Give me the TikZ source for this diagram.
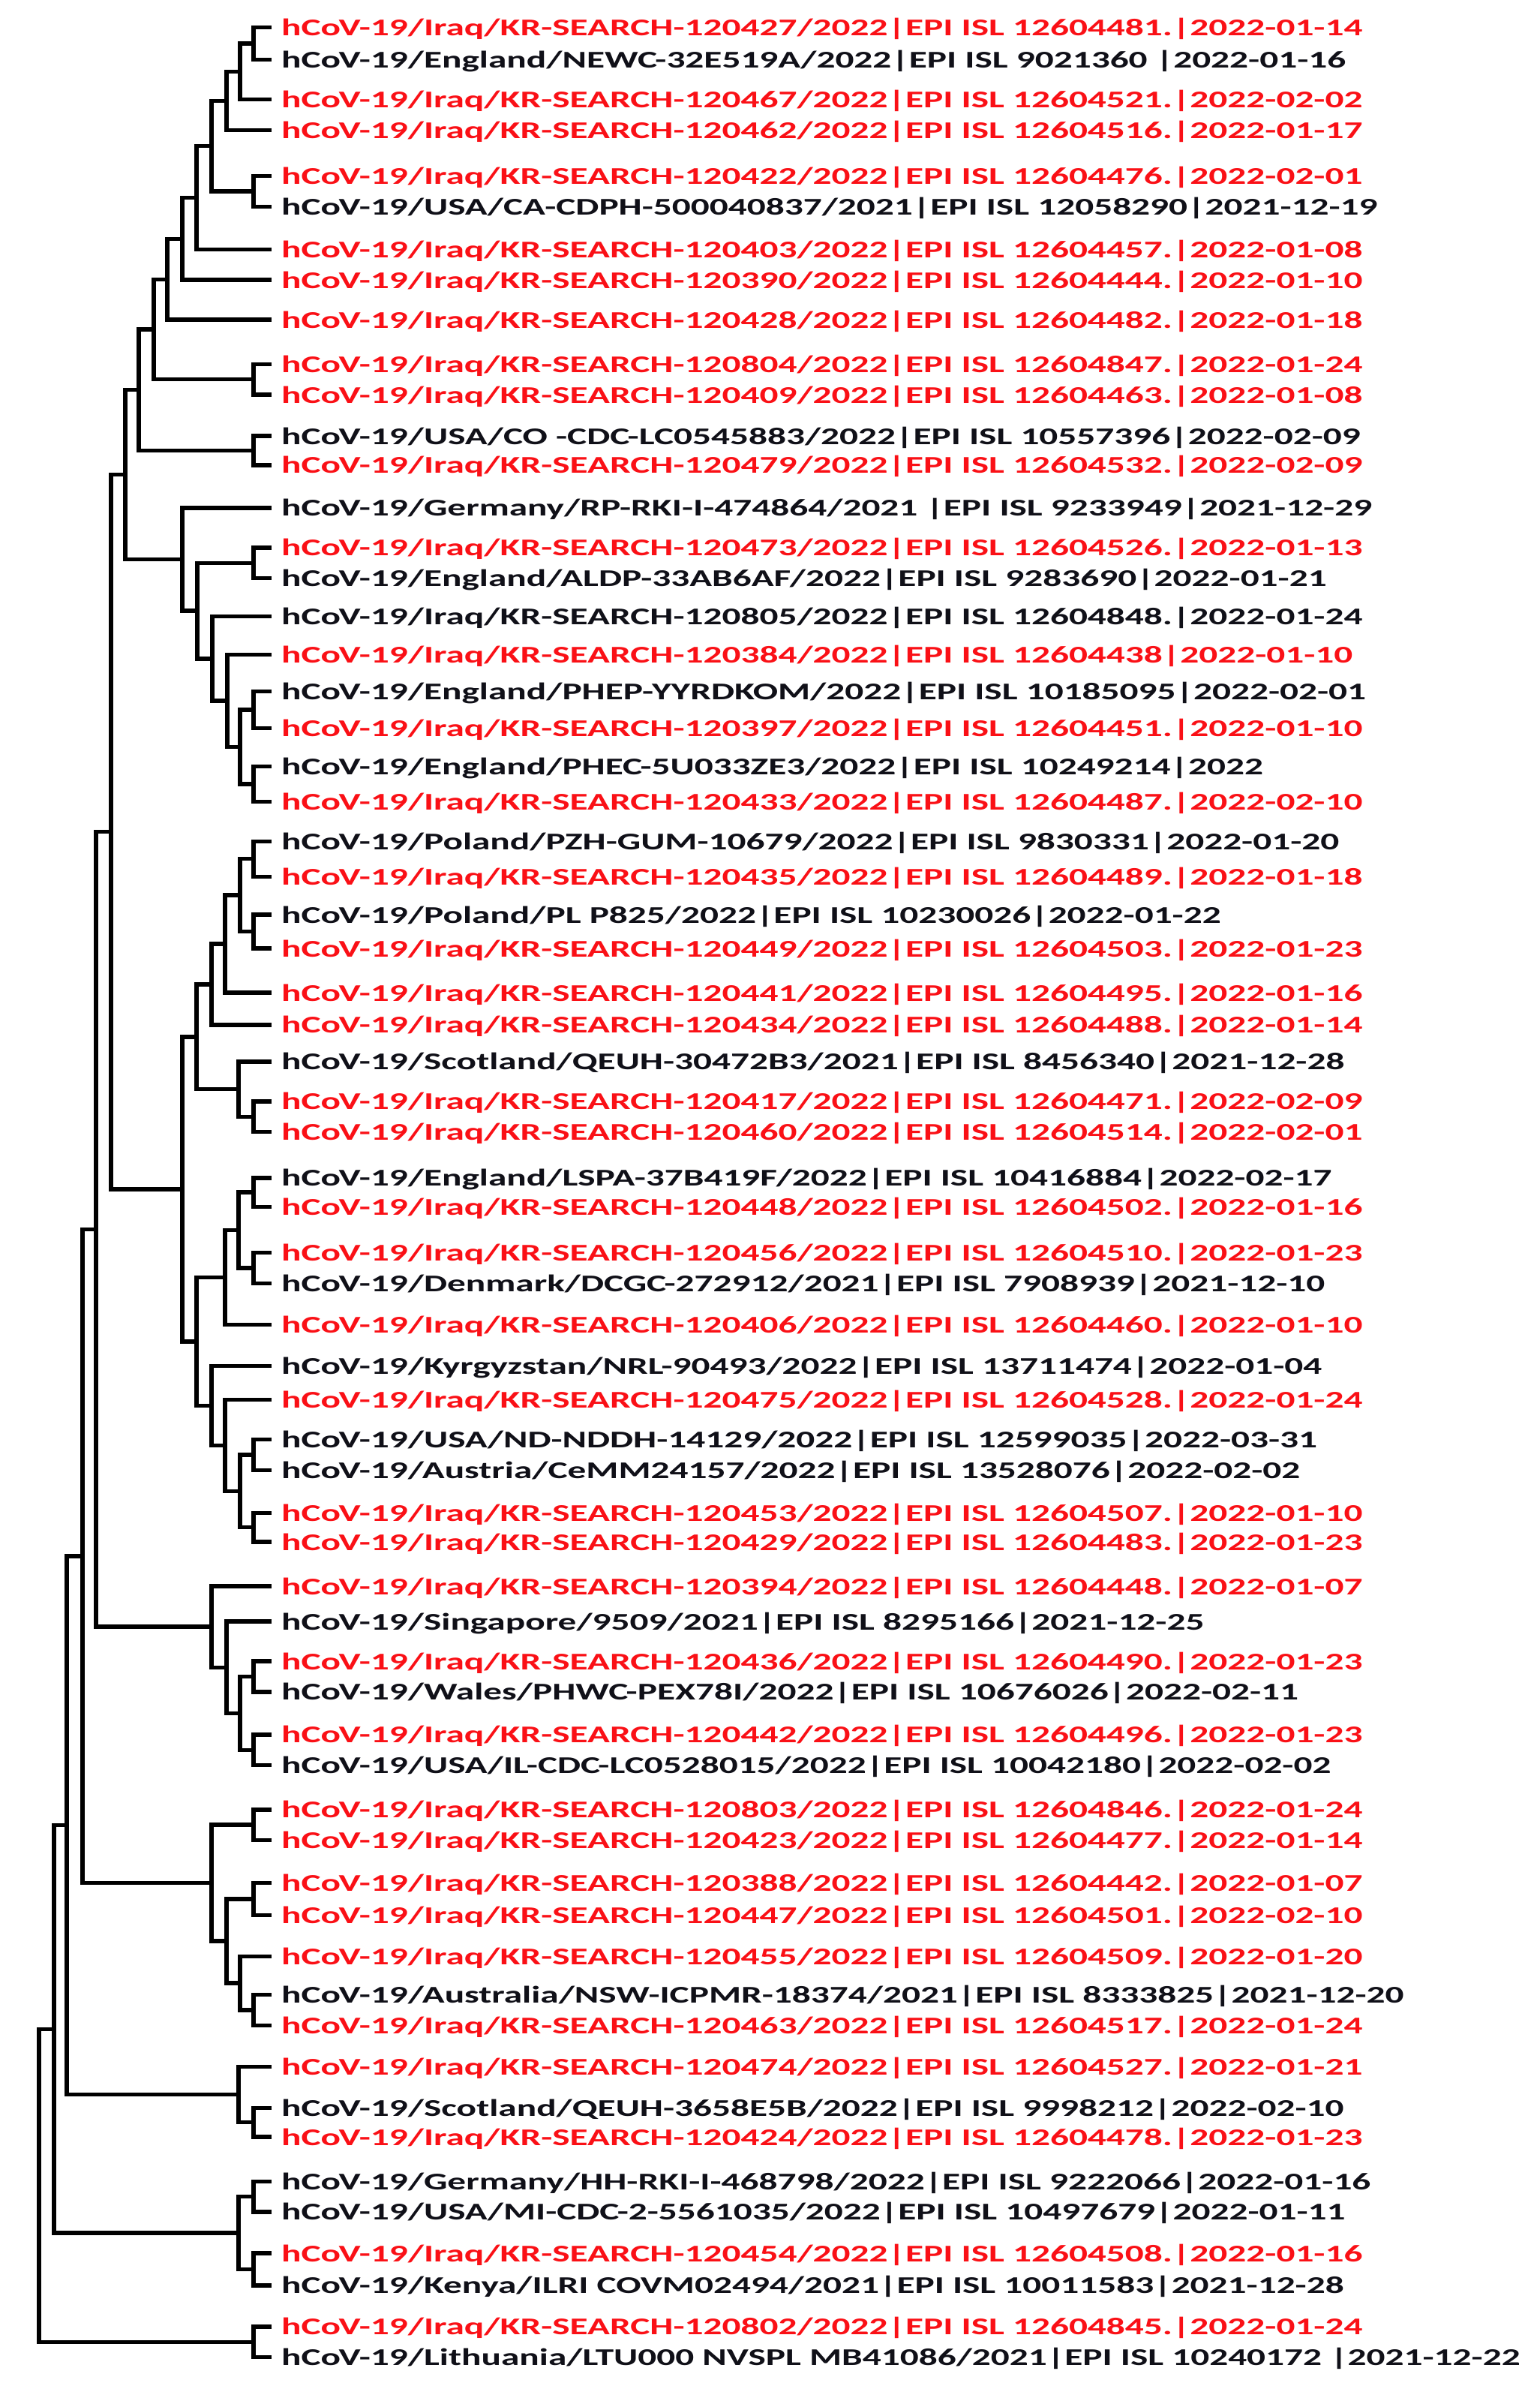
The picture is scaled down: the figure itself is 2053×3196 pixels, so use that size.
\documentclass[tikz,border=0pt]{standalone}
\usepackage{fontspec}
\newfontfamily\labfont[FakeStretch=1.54]{Carlito}
\definecolor{isored}{RGB}{250,16,22}
\definecolor{refblack}{RGB}{16,16,24}
\tikzset{
  treeline/.style={line width=5.4pt, line join=miter, color=black},
  lab/.style={anchor=base west, inner sep=0pt, font=\labfont\bfseries\fontsize{32}{38}\selectfont},
  iraq/.style={lab, text=isored},
  other/.style={lab, text=refblack},
}
\newcommand\leaf[4]{%
  \coordinate (l#1) at (362,#2);
  \node[#3] (t#1) at (375,#2+11) {#4};}
\newcommand\br[3]{\draw[treeline] (#2) -| (#1) |- (#3);}
\begin{document}
\begin{tikzpicture}[x=1pt,y=-1pt]
\useasboundingbox[fill=white] (0,0) rectangle (2053,3196);
% leaves
\leaf{1}{36.7}{iraq}{hCoV-19/Iraq/KR-SEARCH-120427/2022|EPI ISL 12604481.|2022-01-14}
\leaf{2}{79.5}{other}{hCoV-19/England/NEWC-32E519A/2022|EPI ISL 9021360 |2022-01-16}
\leaf{3}{132.5}{iraq}{hCoV-19/Iraq/KR-SEARCH-120467/2022|EPI ISL 12604521.|2022-02-02}
\leaf{4}{173.3}{iraq}{hCoV-19/Iraq/KR-SEARCH-120462/2022|EPI ISL 12604516.|2022-01-17}
\leaf{5}{234.5}{iraq}{hCoV-19/Iraq/KR-SEARCH-120422/2022|EPI ISL 12604476.|2022-02-01}
\leaf{6}{275.2}{other}{hCoV-19/USA/CA-CDPH-500040837/2021|EPI ISL 12058290|2021-12-19}
\leaf{7}{332.3}{iraq}{hCoV-19/Iraq/KR-SEARCH-120403/2022|EPI ISL 12604457.|2022-01-08}
\leaf{8}{373.1}{iraq}{hCoV-19/Iraq/KR-SEARCH-120390/2022|EPI ISL 12604444.|2022-01-10}
\leaf{9}{426.1}{iraq}{hCoV-19/Iraq/KR-SEARCH-120428/2022|EPI ISL 12604482.|2022-01-18}
\leaf{10}{485.2}{iraq}{hCoV-19/Iraq/KR-SEARCH-120804/2022|EPI ISL 12604847.|2022-01-24}
\leaf{11}{526.0}{iraq}{hCoV-19/Iraq/KR-SEARCH-120409/2022|EPI ISL 12604463.|2022-01-08}
\leaf{12}{581.0}{other}{hCoV-19/USA/CO -CDC-LC0545883/2022|EPI ISL 10557396|2022-02-09}
\leaf{13}{619.8}{iraq}{hCoV-19/Iraq/KR-SEARCH-120479/2022|EPI ISL 12604532.|2022-02-09}
\leaf{14}{676.9}{other}{hCoV-19/Germany/RP-RKI-I-474864/2021 |EPI ISL 9233949|2021-12-29}
\leaf{15}{729.9}{iraq}{hCoV-19/Iraq/KR-SEARCH-120473/2022|EPI ISL 12604526.|2022-01-13}
\leaf{16}{770.6}{other}{hCoV-19/England/ALDP-33AB6AF/2022|EPI ISL 9283690|2022-01-21}
\leaf{17}{821.6}{other}{hCoV-19/Iraq/KR-SEARCH-120805/2022|EPI ISL 12604848.|2022-01-24}
\leaf{18}{872.6}{iraq}{hCoV-19/Iraq/KR-SEARCH-120384/2022|EPI ISL 12604438|2022-01-10}
\leaf{19}{921.5}{other}{hCoV-19/England/PHEP-YYRDKOM/2022|EPI ISL 10185095|2022-02-01}
\leaf{20}{970.4}{iraq}{hCoV-19/Iraq/KR-SEARCH-120397/2022|EPI ISL 12604451.|2022-01-10}
\leaf{21}{1021.4}{other}{hCoV-19/England/PHEC-5U033ZE3/2022|EPI ISL 10249214|2022}
\leaf{22}{1068.3}{iraq}{hCoV-19/Iraq/KR-SEARCH-120433/2022|EPI ISL 12604487.|2022-02-10}
\leaf{23}{1121.3}{other}{hCoV-19/Poland/PZH-GUM-10679/2022|EPI ISL 9830331|2022-01-20}
\leaf{24}{1168.2}{iraq}{hCoV-19/Iraq/KR-SEARCH-120435/2022|EPI ISL 12604489.|2022-01-18}
\leaf{25}{1219.1}{other}{hCoV-19/Poland/PL P825/2022|EPI ISL 10230026|2022-01-22}
\leaf{26}{1264.0}{iraq}{hCoV-19/Iraq/KR-SEARCH-120449/2022|EPI ISL 12604503.|2022-01-23}
\leaf{27}{1323.1}{iraq}{hCoV-19/Iraq/KR-SEARCH-120441/2022|EPI ISL 12604495.|2022-01-16}
\leaf{28}{1365.9}{iraq}{hCoV-19/Iraq/KR-SEARCH-120434/2022|EPI ISL 12604488.|2022-01-14}
\leaf{29}{1414.9}{other}{hCoV-19/Scotland/QEUH-30472B3/2021|EPI ISL 8456340|2021-12-28}
\leaf{30}{1467.9}{iraq}{hCoV-19/Iraq/KR-SEARCH-120417/2022|EPI ISL 12604471.|2022-02-09}
\leaf{31}{1508.6}{iraq}{hCoV-19/Iraq/KR-SEARCH-120460/2022|EPI ISL 12604514.|2022-02-01}
\leaf{32}{1569.8}{other}{hCoV-19/England/LSPA-37B419F/2022|EPI ISL 10416884|2022-02-17}
\leaf{33}{1608.5}{iraq}{hCoV-19/Iraq/KR-SEARCH-120448/2022|EPI ISL 12604502.|2022-01-16}
\leaf{34}{1669.7}{iraq}{hCoV-19/Iraq/KR-SEARCH-120456/2022|EPI ISL 12604510.|2022-01-23}
\leaf{35}{1710.5}{other}{hCoV-19/Denmark/DCGC-272912/2021|EPI ISL 7908939|2021-12-10}
\leaf{36}{1765.5}{iraq}{hCoV-19/Iraq/KR-SEARCH-120406/2022|EPI ISL 12604460.|2022-01-10}
\leaf{37}{1820.6}{other}{hCoV-19/Kyrgyzstan/NRL-90493/2022|EPI ISL 13711474|2022-01-04}
\leaf{38}{1865.4}{iraq}{hCoV-19/Iraq/KR-SEARCH-120475/2022|EPI ISL 12604528.|2022-01-24}
\leaf{39}{1918.4}{other}{hCoV-19/USA/ND-NDDH-14129/2022|EPI ISL 12599035|2022-03-31}
\leaf{40}{1959.2}{other}{hCoV-19/Austria/CeMM24157/2022|EPI ISL 13528076|2022-02-02}
\leaf{41}{2016.3}{iraq}{hCoV-19/Iraq/KR-SEARCH-120453/2022|EPI ISL 12604507.|2022-01-10}
\leaf{42}{2055.0}{iraq}{hCoV-19/Iraq/KR-SEARCH-120429/2022|EPI ISL 12604483.|2022-01-23}
\leaf{43}{2114.1}{iraq}{hCoV-19/Iraq/KR-SEARCH-120394/2022|EPI ISL 12604448.|2022-01-07}
\leaf{44}{2161.0}{other}{hCoV-19/Singapore/9509/2021|EPI ISL 8295166|2021-12-25}
\leaf{45}{2214.0}{iraq}{hCoV-19/Iraq/KR-SEARCH-120436/2022|EPI ISL 12604490.|2022-01-23}
\leaf{46}{2254.8}{other}{hCoV-19/Wales/PHWC-PEX78I/2022|EPI ISL 10676026|2022-02-11}
\leaf{47}{2311.9}{iraq}{hCoV-19/Iraq/KR-SEARCH-120442/2022|EPI ISL 12604496.|2022-01-23}
\leaf{48}{2352.7}{other}{hCoV-19/USA/IL-CDC-LC0528015/2022|EPI ISL 10042180|2022-02-02}
\leaf{49}{2411.8}{iraq}{hCoV-19/Iraq/KR-SEARCH-120803/2022|EPI ISL 12604846.|2022-01-24}
\leaf{50}{2452.5}{iraq}{hCoV-19/Iraq/KR-SEARCH-120423/2022|EPI ISL 12604477.|2022-01-14}
\leaf{51}{2509.6}{iraq}{hCoV-19/Iraq/KR-SEARCH-120388/2022|EPI ISL 12604442.|2022-01-07}
\leaf{52}{2552.4}{iraq}{hCoV-19/Iraq/KR-SEARCH-120447/2022|EPI ISL 12604501.|2022-02-10}
\leaf{53}{2607.5}{iraq}{hCoV-19/Iraq/KR-SEARCH-120455/2022|EPI ISL 12604509.|2022-01-20}
\leaf{54}{2658.4}{other}{hCoV-19/Australia/NSW-ICPMR-18374/2021|EPI ISL 8333825|2021-12-20}
\leaf{55}{2699.2}{iraq}{hCoV-19/Iraq/KR-SEARCH-120463/2022|EPI ISL 12604517.|2022-01-24}
\leaf{56}{2754.3}{iraq}{hCoV-19/Iraq/KR-SEARCH-120474/2022|EPI ISL 12604527.|2022-01-21}
\leaf{57}{2809.3}{other}{hCoV-19/Scotland/QEUH-3658E5B/2022|EPI ISL 9998212|2022-02-10}
\leaf{58}{2848.1}{iraq}{hCoV-19/Iraq/KR-SEARCH-120424/2022|EPI ISL 12604478.|2022-01-23}
\leaf{59}{2907.2}{other}{hCoV-19/Germany/HH-RKI-I-468798/2022|EPI ISL 9222066|2022-01-16}
\leaf{60}{2947.9}{other}{hCoV-19/USA/MI-CDC-2-5561035/2022|EPI ISL 10497679|2022-01-11}
\leaf{61}{3003.0}{iraq}{hCoV-19/Iraq/KR-SEARCH-120454/2022|EPI ISL 12604508.|2022-01-16}
\leaf{62}{3045.8}{other}{hCoV-19/Kenya/ILRI COVM02494/2021|EPI ISL 10011583|2021-12-28}
\leaf{63}{3100.9}{iraq}{hCoV-19/Iraq/KR-SEARCH-120802/2022|EPI ISL 12604845.|2022-01-24}
\leaf{64}{3141.6}{other}{hCoV-19/Lithuania/LTU000 NVSPL MB41086/2021|EPI ISL 10240172 |2021-12-22}
% internal nodes
\coordinate (A) at (338,58.1);
\coordinate (B) at (320,95.3);
\coordinate (C) at (302,134.3);
\coordinate (E) at (338,254.85);
\coordinate (D) at (282,194.6);
\coordinate (F) at (262,263.45);
\coordinate (G) at (243,318.3);
\coordinate (H) at (223,372.2);
\coordinate (J) at (338,505.6);
\coordinate (I) at (205,438.9);
\coordinate (L) at (338,600.4);
\coordinate (K) at (185,519.7);
\coordinate (P) at (338,750.25);
\coordinate (T) at (338,945.95);
\coordinate (U) at (338,1044.85);
\coordinate (S) at (320,995.4);
\coordinate (R) at (303,934.0);
\coordinate (Q) at (283,877.8);
\coordinate (O) at (263,814.0);
\coordinate (N) at (243,745.45);
\coordinate (M) at (167,632.6);
\coordinate (a1) at (338,1144.75);
\coordinate (a2) at (338,1241.55);
\coordinate (GG) at (320,1193.15);
\coordinate (g300) at (300,1258.1);
\coordinate (g282) at (282,1312.0);
\coordinate (a3) at (338,1488.25);
\coordinate (g318) at (318,1451.6);
\coordinate (W1) at (262,1381.8);
\coordinate (b1) at (338,1589.15);
\coordinate (b2) at (338,1690.1);
\coordinate (HH) at (318,1639.6);
\coordinate (HH2) at (300,1702.55);
\coordinate (b3) at (338,1938.8);
\coordinate (b4) at (338,2035.65);
\coordinate (NN) at (320,1987.2);
\coordinate (MM) at (300,1926.3);
\coordinate (LL) at (282,1873.45);
\coordinate (W2) at (262,1788.0);
\coordinate (W) at (243,1584.9);
\coordinate (V) at (148,1108.75);
\coordinate (c1) at (338,2234.4);
\coordinate (c2) at (338,2332.3);
\coordinate (c320) at (320,2283.35);
\coordinate (c302) at (302,2222.2);
\coordinate (Y) at (282,2168.15);
\coordinate (X) at (128,1638.45);
\coordinate (d1) at (338,2432.15);
\coordinate (d2) at (338,2531.0);
\coordinate (d3) at (338,2678.8);
\coordinate (d320) at (320,2643.15);
\coordinate (d302) at (302,2587.1);
\coordinate (AA) at (282,2509.6);
\coordinate (Z) at (110,2074.0);
\coordinate (e1) at (338,2828.7);
\coordinate (CC) at (318,2791.5);
\coordinate (BB) at (89,2432.75);
\coordinate (f1) at (338,2927.55);
\coordinate (f2) at (338,3024.4);
\coordinate (EE) at (318,2976.0);
\coordinate (DD) at (72,2704.4);
\coordinate (FF) at (338,3121.25);
\coordinate (root) at (52,2912.8);
% branches
\br{A}{l1}{l2}
\br{B}{A}{l3}
\br{C}{B}{l4}
\br{E}{l5}{l6}
\br{D}{C}{E}
\br{F}{D}{l7}
\br{G}{F}{l8}
\br{H}{G}{l9}
\br{J}{l10}{l11}
\br{I}{H}{J}
\br{L}{l12}{l13}
\br{K}{I}{L}
\br{P}{l15}{l16}
\br{T}{l19}{l20}
\br{U}{l21}{l22}
\br{S}{T}{U}
\br{R}{l18}{S}
\br{Q}{l17}{R}
\br{O}{P}{Q}
\br{N}{l14}{O}
\br{M}{K}{N}
\br{a1}{l23}{l24}
\br{a2}{l25}{l26}
\br{GG}{a1}{a2}
\br{g300}{GG}{l27}
\br{g282}{g300}{l28}
\br{a3}{l30}{l31}
\br{g318}{l29}{a3}
\br{W1}{g282}{g318}
\br{b1}{l32}{l33}
\br{b2}{l34}{l35}
\br{HH}{b1}{b2}
\br{HH2}{HH}{l36}
\br{b3}{l39}{l40}
\br{b4}{l41}{l42}
\br{NN}{b3}{b4}
\br{MM}{l38}{NN}
\br{LL}{l37}{MM}
\br{W2}{HH2}{LL}
\br{W}{W1}{W2}
\br{V}{M}{W}
\br{c1}{l45}{l46}
\br{c2}{l47}{l48}
\br{c320}{c1}{c2}
\br{c302}{l44}{c320}
\br{Y}{l43}{c302}
\br{X}{V}{Y}
\br{d1}{l49}{l50}
\br{d2}{l51}{l52}
\br{d3}{l54}{l55}
\br{d320}{l53}{d3}
\br{d302}{d2}{d320}
\br{AA}{d1}{d302}
\br{Z}{X}{AA}
\br{e1}{l57}{l58}
\br{CC}{l56}{e1}
\br{BB}{Z}{CC}
\br{f1}{l59}{l60}
\br{f2}{l61}{l62}
\br{EE}{f1}{f2}
\br{DD}{BB}{EE}
\br{FF}{l63}{l64}
\br{root}{DD}{FF}
\end{tikzpicture}
\end{document}
